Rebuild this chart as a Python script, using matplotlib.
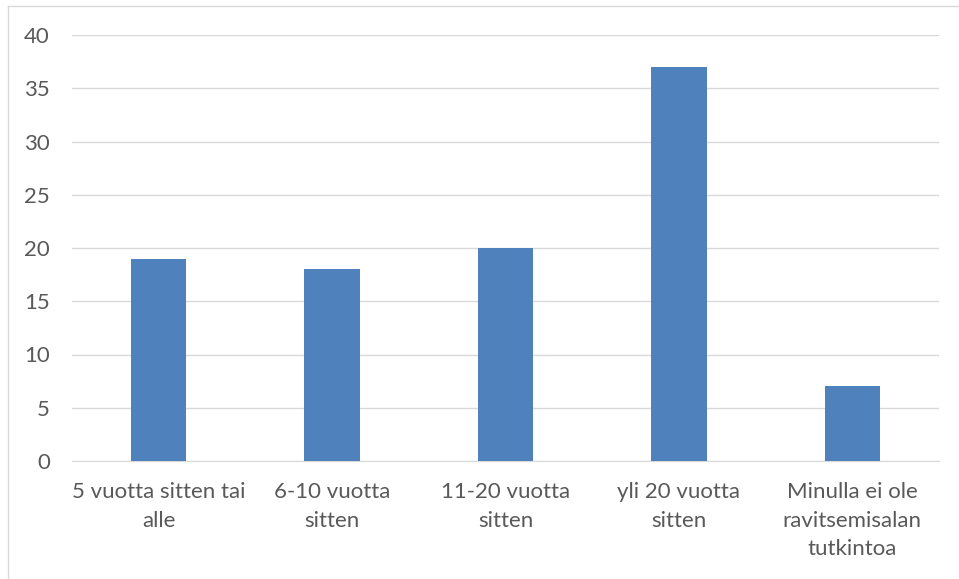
import numpy as np
import matplotlib
matplotlib.use('Agg')
import matplotlib.pyplot as plt
from matplotlib.lines import Line2D

# Categories and values
categories = ['5 vuotta sitten tai\nalle', '6-10 vuotta\nsitten', '11-20 vuotta\nsitten',
              'yli 20 vuotta\nsitten', 'Minulla ei ole\nravitsemisalan\ntutkintoa']
values = [19, 18, 20, 37, 7]
y_ticks = [0, 5, 10, 15, 20, 25, 30, 35, 40]

plt.rcParams['font.family'] = ['Lato', 'DejaVu Sans']

fig = plt.figure(figsize=(9.59, 5.79), dpi=100)
ax = fig.add_axes([72 / 959, 1 - 461 / 579, (939 - 72) / 959, (461 - 35) / 579])

x = np.arange(len(categories))
ax.bar(x, values, width=0.32, color='#4F81BD', zorder=3)

ax.set_xlim(-0.5, len(categories) - 0.5)
ax.set_ylim(0, 40)
ax.set_yticks(y_ticks)
ax.set_xticks(x)
ax.set_xticklabels(categories, linespacing=1.55, multialignment='center')

ax.grid(axis='y', color='#D9D9D9', linewidth=1, zorder=0)
for s in ['top', 'right', 'left']:
    ax.spines[s].set_visible(False)
ax.spines['bottom'].set_color('#D9D9D9')
ax.tick_params(axis='both', length=0, labelsize=16, colors='#595959')
ax.tick_params(axis='y', pad=16)
ax.tick_params(axis='x', pad=15)

# Light frame around the chart area
fig.add_artist(Line2D([8 / 959, 8 / 959], [0, 1 - 6 / 579], color='#D9D9D9', linewidth=1, transform=fig.transFigure))
fig.add_artist(Line2D([8 / 959, 958 / 959], [1 - 6 / 579, 1 - 6 / 579], color='#D9D9D9', linewidth=1, transform=fig.transFigure))

fig.savefig('out.png', dpi=100)
